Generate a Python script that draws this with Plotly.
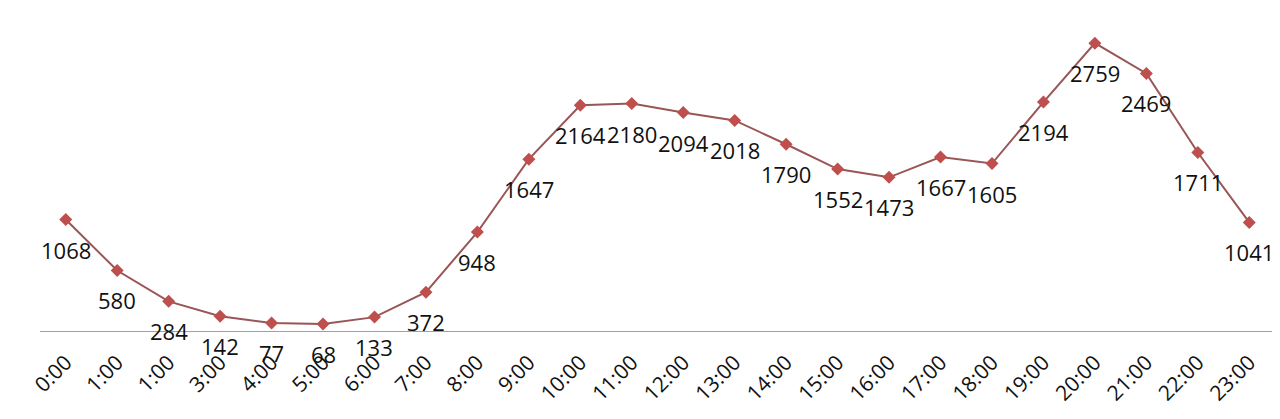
import plotly.graph_objects as go

hours = ["0:00", "1:00", "1:00", "3:00", "4:00", "5:00", "6:00", "7:00", "8:00", "9:00",
         "10:00", "11:00", "12:00", "13:00", "14:00", "15:00", "16:00", "17:00", "18:00",
         "19:00", "20:00", "21:00", "22:00", "23:00"]
values = [1068, 580, 284, 142, 77, 68, 133, 372, 948, 1647, 2164, 2180, 2094, 2018,
          1790, 1552, 1473, 1667, 1605, 2194, 2759, 2469, 1711, 1041]

xs = list(range(len(hours)))
FONT = "Open Sans"

fig = go.Figure()
fig.add_trace(go.Scatter(
    x=xs, y=values, mode="lines+markers",
    line=dict(color="#9A5556", width=2),
    marker=dict(symbol="diamond", size=10, color="#BE4F4C"),
    hoverinfo="skip", showlegend=False,
))

for x, v in zip(xs, values):
    fig.add_annotation(x=x, y=v, text=str(v), showarrow=False, yshift=-30,
                       font=dict(family=FONT, size=22, color="#111111"))

fig.update_layout(
    width=1272, height=411,
    margin=dict(l=32, r=5, t=10, b=88, autoexpand=False),
    paper_bgcolor="white", plot_bgcolor="white",
    xaxis=dict(
        range=[-0.5, 23.5], tickmode="array", tickvals=xs, ticktext=hours,
        tickangle=-45, showgrid=False, zeroline=False,
        showline=True, linecolor="#A0A0A0", linewidth=1,
        ticks="outside", ticklen=10, tickcolor="rgba(0,0,0,0)",
        tickfont=dict(family=FONT, size=21, color="#111111"),
        automargin=False,
    ),
    yaxis=dict(range=[0, 3000], visible=False, showgrid=False, zeroline=False),
)

fig.write_html("out.html")
